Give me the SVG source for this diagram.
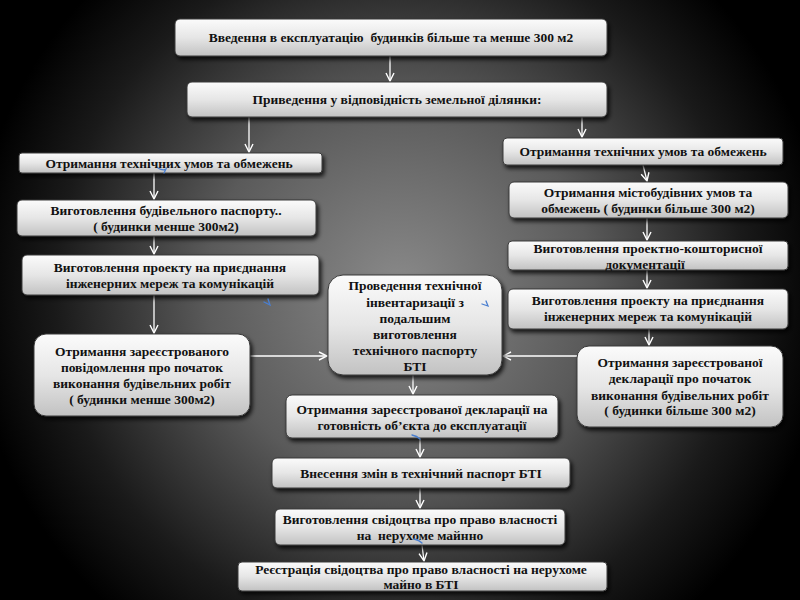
<svg xmlns="http://www.w3.org/2000/svg" width="800" height="600" viewBox="0 0 800 600">
<defs>
<radialGradient id="bg" gradientUnits="userSpaceOnUse" cx="400" cy="290" r="430">
<stop offset="0" stop-color="#8a8a8a"/>
<stop offset="0.45" stop-color="#5a5a5a"/>
<stop offset="0.8" stop-color="#1a1a1a"/>
<stop offset="1" stop-color="#000"/>
</radialGradient>
<linearGradient id="box" x1="0" y1="0" x2="0" y2="1">
<stop offset="0" stop-color="#fbfbfb"/>
<stop offset="0.5" stop-color="#e6e6e6"/>
<stop offset="1" stop-color="#c2c2c2"/>
</linearGradient>
<filter id="sh" x="-10%" y="-20%" width="125%" height="150%">
<feDropShadow dx="2" dy="3" stdDeviation="2" flood-color="#000" flood-opacity="0.8"/>
</filter>
<marker id="ah" viewBox="0 0 10 10" refX="9" refY="5" markerWidth="10" markerHeight="10" markerUnits="userSpaceOnUse" orient="auto">
<path d="M1,1 L9,5 L1,9" fill="none" stroke="#fff" stroke-width="1.4"/>
</marker>
<style>
.b{fill:url(#box);stroke:#3a3a3a;stroke-width:1;filter:url(#sh)}
.t{font-family:"Liberation Serif","DejaVu Serif",serif;font-weight:bold;font-size:13.5px;fill:#111;text-anchor:middle;white-space:pre}
.c{fill:none;stroke:#fff;stroke-width:1.3}
.a{marker-end:url(#ah)}
.m{fill:none;stroke:#4a7fd0;stroke-width:1.3;stroke-linecap:round}
</style>
</defs>
<rect width="800" height="600" fill="url(#bg)"/>

<g id="connectors">
<line class="c a" x1="390" y1="56" x2="390" y2="81"/>
<line class="c a" x1="249" y1="117" x2="249" y2="152"/>
<line class="c a" x1="582" y1="117" x2="582" y2="137"/>
<line class="c a" x1="154" y1="173" x2="154" y2="199"/>
<line class="c a" x1="154" y1="236" x2="154" y2="254"/>
<line class="c a" x1="154" y1="295" x2="154" y2="333"/>
<line class="c a" x1="643" y1="165" x2="647" y2="181"/>
<line class="c a" x1="647" y1="218" x2="647" y2="240"/>
<line class="c a" x1="647" y1="270" x2="647" y2="288"/>
<line class="c a" x1="649" y1="329" x2="649" y2="345"/>
<line class="c a" x1="250" y1="356" x2="327" y2="356"/>
<line class="c a" x1="577" y1="356" x2="503" y2="356"/>
<line class="c a" x1="413" y1="375" x2="413" y2="394"/>
<line class="c a" x1="420" y1="438" x2="420" y2="457"/>
<line class="c a" x1="420" y1="488" x2="420" y2="508"/>
<line class="c a" x1="422" y1="545" x2="424" y2="561"/>
</g>

<g id="n1"><rect class="b" x="175" y="19" width="432" height="37" rx="5"/>
<text class="t" x="391" y="42">Введення в експлуатацію  будинків більше та менше 300 м2</text></g>

<g id="n2"><rect class="b" x="187" y="82" width="420" height="35" rx="5"/>
<text class="t" x="397" y="104">Приведення у відповідність земельної ділянки:</text></g>

<g id="n3"><rect class="b" x="19" y="153" width="303" height="20" rx="3"/>
<text class="t" x="169" y="167.5">Отримання технічних умов та обмежень</text></g>

<g id="n4"><rect class="b" x="17" y="200" width="299" height="36" rx="5"/>
<text class="t" x="166" y="215">Виготовлення будівельного паспорту..</text>
<text class="t" x="166" y="231">( будинки менше 300м2)</text></g>

<g id="n5"><rect class="b" x="22" y="255" width="297" height="40" rx="5"/>
<text class="t" x="170" y="272">Виготовлення проекту на приєднання</text>
<text class="t" x="170" y="288">інженерних мереж та комунікацій</text></g>

<g id="n6"><rect class="b" x="34" y="334" width="216" height="82" rx="12"/>
<text class="t" x="142" y="356">Отримання зареєстрованого</text>
<text class="t" x="142" y="372">повідомлення про початок</text>
<text class="t" x="142" y="388">виконання будівельних робіт</text>
<text class="t" x="142" y="404">( будинки менше 300м2)</text></g>

<g id="n7"><rect class="b" x="328" y="275" width="174" height="100" rx="15"/>
<text class="t" x="415" y="290">Проведення технічної</text>
<text class="t" x="415" y="307">інвентаризації з</text>
<text class="t" x="415" y="323">подальшим</text>
<text class="t" x="415" y="339">виготовлення</text>
<text class="t" x="415" y="355">технічного паспорту</text>
<text class="t" x="415" y="371">БТІ</text></g>

<g id="n8"><rect class="b" x="503" y="138" width="280" height="27" rx="4"/>
<text class="t" x="643" y="156">Отримання технічних умов та обмежень</text></g>

<g id="n9"><rect class="b" x="509" y="182" width="279" height="36" rx="5"/>
<text class="t" x="648" y="197">Отримання містобудівних умов та</text>
<text class="t" x="648" y="213">обмежень ( будинки більше 300 м2)</text></g>

<g id="n10"><rect class="b" x="508" y="241" width="280" height="29" rx="4"/>
<text class="t" x="648" y="253">Виготовлення проектно-кошторисної</text>
<text class="t" x="645" y="269">документації</text></g>

<g id="n11"><rect class="b" x="508" y="289" width="280" height="40" rx="5"/>
<text class="t" x="648" y="305">Виготовлення проекту на приєднання</text>
<text class="t" x="648" y="321">інженерних мереж та комунікацій</text></g>

<g id="n12"><rect class="b" x="577" y="346" width="206" height="81" rx="12"/>
<text class="t" x="680" y="367">Отримання зареєстрованої</text>
<text class="t" x="680" y="383">декларації про початок</text>
<text class="t" x="680" y="400">виконання будівельних робіт</text>
<text class="t" x="680" y="415">( будинки більше 300 м2)</text></g>

<g id="n13"><rect class="b" x="286" y="395" width="272" height="43" rx="6"/>
<text class="t" x="422" y="414">Отримання зареєстрованої декларації на</text>
<text class="t" x="422" y="430">готовність об’єкта до експлуатації</text></g>

<g id="n14"><rect class="b" x="272" y="458" width="298" height="30" rx="5"/>
<text class="t" x="421" y="478">Внесення змін в технічний паспорт БТІ</text></g>

<g id="n15"><rect class="b" x="275" y="509" width="290" height="36" rx="5"/>
<text class="t" x="420" y="524">Виготовлення свідоцтва про право власності</text>
<text class="t" x="420" y="540">на  нерухоме майнно</text></g>

<g id="n16"><rect class="b" x="238" y="562" width="369" height="29" rx="4"/>
<text class="t" x="421" y="574">Реєстрація свідоцтва про право власності на нерухоме</text>
<text class="t" x="421" y="589">майно в БТІ</text></g>

<g id="marks">
<path class="m" d="M158,168 Q163,171 166,169 L164,173"/>
<path class="m" d="M264,302 L270,305 L268,299"/>
<path class="m" d="M482,304 L488,306 L486,301"/>
<path class="m" d="M412,435 Q417,436 420,439"/>
<path class="m" d="M414,539 Q419,540 422,543"/>
</g>
</svg>
